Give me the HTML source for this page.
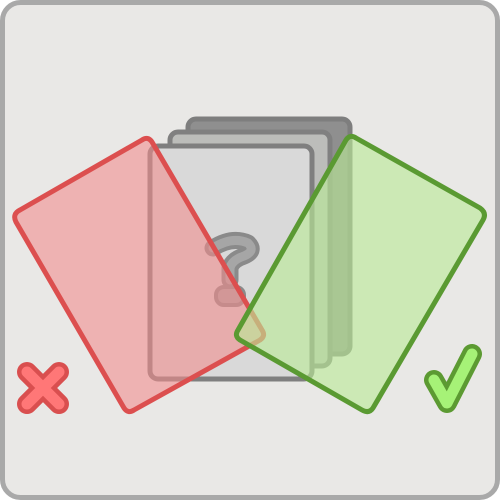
<!DOCTYPE html>
<html><head><meta charset="utf-8"><style>
html,body{margin:0;padding:0;width:500px;height:500px;overflow:hidden;background:#fff}
svg{display:block}
</style></head><body>
<svg width="500" height="500" viewBox="0 0 500 500">
  <rect x="2.5" y="2.5" width="495" height="495" rx="18" fill="#e9e8e6" stroke="#a9a9a9" stroke-width="5"/>
  <g>
    <rect x="188" y="119" width="162" height="235" rx="8" fill="#8f8f8f" stroke="#7e7e7e" stroke-width="5"/>
    <rect x="170" y="132" width="160" height="234" rx="8" fill="#bcbdba" stroke="#808080" stroke-width="5"/>
    <rect x="150" y="146" width="162" height="233" rx="8" fill="#d9d9d9" stroke="#7f7f7f" stroke-width="5"/>
    <g>
      <path d="M213,248 Q232,236 248,243 Q256,251 244,256 Q232,260 230,268 L230,280" fill="none" stroke="#8a8a8a" stroke-width="17" stroke-linecap="round" stroke-linejoin="round"/>
      <rect x="216" y="287" width="28" height="18" rx="8" fill="#a6a6a6" stroke="#8a8a8a" stroke-width="4"/>
      <path d="M213,248 Q232,236 248,243 Q256,251 244,256 Q232,260 230,268 L230,280" fill="none" stroke="#a6a6a6" stroke-width="9" stroke-linecap="round" stroke-linejoin="round"/>
    </g>
  </g>
  <path d="M20,210 L142,140 Q148,136 152,142 L262,330 Q266,336 260,340 L134,410 Q128,414 124,408 L16,222 Q12,214 20,210 Z" fill="rgba(242,140,140,0.58)" stroke="#dc4f4f" stroke-width="5" stroke-linejoin="round"/>
  <path d="M346,140 Q350,134 356,138 L480,208 Q487,213 483,220 L373,408 Q369,414 362,410 L240,340 Q234,336 238,330 Z" fill="rgba(186,234,150,0.62)" stroke="#5a9a32" stroke-width="5" stroke-linejoin="round"/>
  <g>
    <path d="M27,372 L59,404 M59,372 L27,404" stroke="#d94f4f" stroke-width="20" stroke-linecap="round"/>
    <path d="M27,372 L59,404 M59,372 L27,404" stroke="#ff7777" stroke-width="11" stroke-linecap="round"/>
  </g>
  <g>
    <path d="M434,380 L447,403 L472,354" fill="none" stroke="#5c9a32" stroke-width="20" stroke-linecap="round" stroke-linejoin="round"/>
    <path d="M434,380 L447,403 L472,354" fill="none" stroke="#a6f277" stroke-width="11" stroke-linecap="round" stroke-linejoin="round"/>
  </g>
</svg>
</body></html>
